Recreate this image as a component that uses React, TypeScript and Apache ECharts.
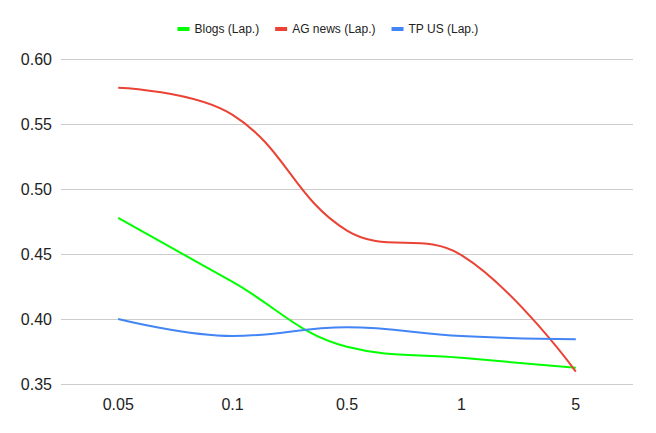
import React, { useEffect, useRef } from "react";
import * as echarts from "echarts";

const categories = ["0.05", "0.1", "0.5", "1", "5"];
const blogs = [0.4777, 0.4285, 0.3786, 0.3702, 0.3625];
const agNews = [0.5779, 0.557, 0.468, 0.4492, 0.3595];
const tpUs = [0.4, 0.3869, 0.3936, 0.3869, 0.3844];
const seriesNames = ["Blogs (Lap.)", "AG news (Lap.)", "TP US (Lap.)"];
const colors = ["#00ff00", "#ea4335", "#4285f4"];

export default function App() {
  const ref = useRef<HTMLDivElement>(null);
  useEffect(() => {
    const chart = echarts.init(ref.current!, null, { renderer: "svg" });
    const data = [blogs, agNews, tpUs];
    chart.setOption({
      animation: false,
      color: colors,
      legend: {
        top: 18,
        left: "center",
        icon: "rect",
        itemWidth: 12,
        itemHeight: 4,
        itemGap: 16,
        textStyle: { fontSize: 12, color: "#222", fontFamily: "Liberation Sans, Arial" },
        data: seriesNames,
      },
      grid: { left: 61, right: 23, top: 59, bottom: 49 },
      xAxis: {
        type: "category",
        data: categories,
        boundaryGap: true,
        axisLine: { show: false },
        axisTick: { show: false },
        axisLabel: {
          fontSize: 16,
          color: "#222",
          margin: 12,
          fontFamily: "Liberation Sans, Arial",
        },
      },
      yAxis: {
        type: "value",
        min: 0.35,
        max: 0.6,
        interval: 0.05,
        axisLine: { show: false },
        axisTick: { show: false },
        splitLine: { lineStyle: { color: "#cccccc", width: 1 } },
        axisLabel: {
          fontSize: 16,
          color: "#222",
          margin: 9,
          fontFamily: "Liberation Sans, Arial",
          formatter: (v: number) => v.toFixed(2),
        },
      },
      series: seriesNames.map((name, i) => ({
        name,
        type: "line",
        data: data[i],
        smooth: 0.4,
        showSymbol: false,
        symbol: "none",
        lineStyle: { width: 2, color: colors[i] },
      })),
    });
    return () => chart.dispose();
  }, []);
  return <div ref={ref} style={{ width: 656, height: 433, position: "absolute", left: 0, top: 0 }} />;
}
